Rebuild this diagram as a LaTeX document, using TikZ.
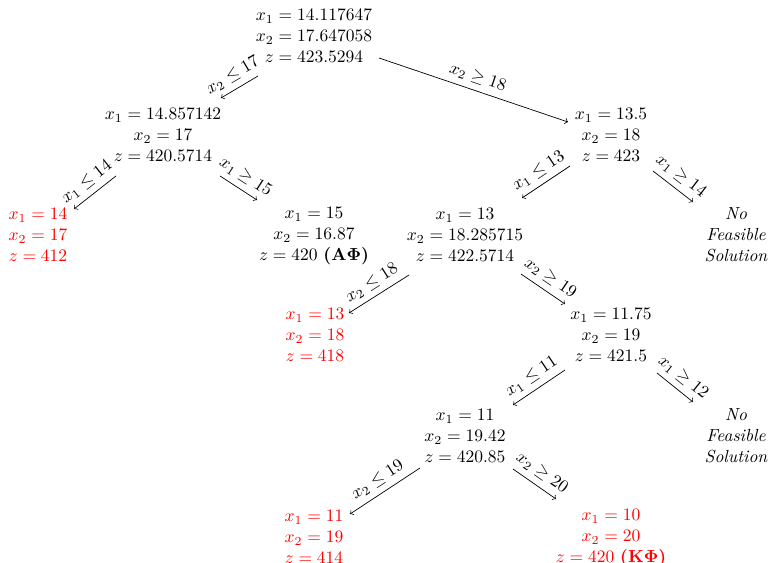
\documentclass[tikz,border=0pt]{standalone}
\usetikzlibrary{calc}
\tikzset{
  sub/.style={align=center},
  leaf/.style={align=center,red},
  infeas/.style={align=center,font=\itshape},
  branch/.style={->},
  cut/.style={sloped,above}
}
\begin{document}
\begin{tikzpicture}[x=0.5714pt,y=-0.5714pt]
\useasboundingbox (0,0) rectangle (768,563);
\node[sub] (p0) at (314,36) {$x_1=14.117647$\\$x_2=17.647058$\\$z=423.5294$};
\node[sub] (p1) at (163,135) {$x_1=14.857142$\\$x_2=17$\\$z=420.5714$};
\node[sub] (p2) at (611,135) {$x_1=13.5$\\$x_2=18$\\$z=423$};
\node[leaf] (p3) at (38,235) {$x_1=14$\\$x_2=17$\\$z=412$};
\node[sub] (p4) at (314,236) {$x_1=15$\\$x_2=16.87$\\$z=420$ \textbf{(A$\mathbf{\Phi}$)}};
\node[sub] (p5) at (465,235) {$x_1=13$\\$x_2=18.285715$\\$z=422.5714$};
\node[infeas] (p6) at (736,235) {No\\Feasible\\Solution};
\node[leaf] (p7) at (315,335) {$x_1=13$\\$x_2=18$\\$z=418$};
\node[sub] (p8) at (611,335) {$x_1=11.75$\\$x_2=19$\\$z=421.5$};
\node[sub] (p9) at (465,436) {$x_1=11$\\$x_2=19.42$\\$z=420.85$};
\node[infeas] (p10) at (736,436) {No\\Feasible\\Solution};
\node[leaf] (p11) at (314,537) {$x_1=11$\\$x_2=19$\\$z=414$};
\node[leaf] (p12) at (611,538) {$x_1=10$\\$x_2=20$\\$z=420$ \textbf{(K$\mathbf{\Phi}$)}};
\draw[branch] ([shift={(-56,40)}]p0.center) -- node[cut] {$x_2\leq17$} ([shift={(58,-37)}]p1.center);
\draw[branch] ([shift={(65,22)}]p0.center) -- node[cut] {$x_2\geq18$} ([shift={(-43,-13)}]p2.center);
\draw[branch] ([shift={(-47,41)}]p1.center) -- node[cut] {$x_1\leq14$} ([shift={(36,-26)}]p3.center);
\draw[branch] ([shift={(57,41)}]p1.center) -- node[cut] {$x_1\geq15$} ([shift={(-57,-36)}]p4.center);
\draw[branch] ([shift={(-41,31)}]p2.center) -- node[cut] {$x_1\leq13$} ([shift={(57,-37)}]p5.center);
\draw[branch] ([shift={(42,36)}]p2.center) -- node[cut] {$x_1\geq14$} ([shift={(-43,-33)}]p6.center);
\draw[branch] ([shift={(-56,40)}]p5.center) -- node[cut] {$x_2\leq18$} ([shift={(34,-22)}]p7.center);
\draw[branch] ([shift={(56,39)}]p5.center) -- node[cut] {$x_2\geq19$} ([shift={(-46,-31)}]p8.center);
\draw[branch] ([shift={(-46,35)}]p8.center) -- node[cut] {$x_1\leq11$} ([shift={(48,-31)}]p9.center);
\draw[branch] ([shift={(46,38)}]p8.center) -- node[cut] {$x_1\geq12$} ([shift={(-43,-34)}]p10.center);
\draw[branch] ([shift={(-45,32)}]p9.center) -- node[cut] {$x_2\leq19$} ([shift={(36,-23)}]p11.center);
\draw[branch] ([shift={(48,33)}]p9.center) -- node[cut] {$x_2\geq20$} ([shift={(-55,-39)}]p12.center);
\end{tikzpicture}
\end{document}
